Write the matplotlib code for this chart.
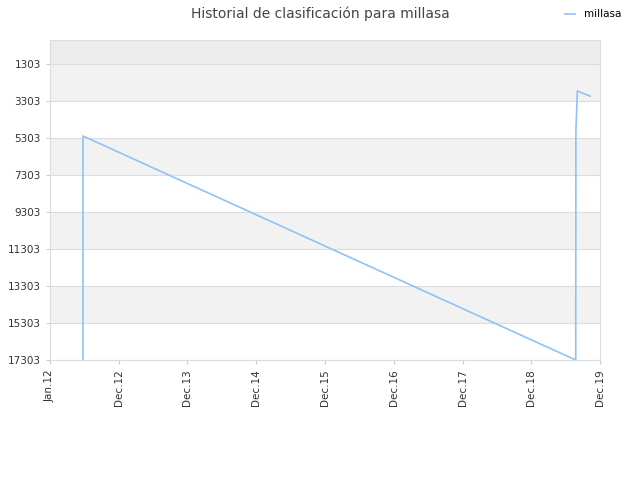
import matplotlib
matplotlib.use('Agg')
import matplotlib.pyplot as plt
import numpy as np
from datetime import datetime

# ================================================================
# Data
# ================================================================

dates = ['2012-06-24', '2012-06-24', '2019-08-24', '2019-08-25',
         '2019-08-25', '2019-09-02', '2019-11-08']
ranks = [17303, 5190, 17303, 4920, 4920, 2760, 3033]

y_ticks = [1303, 3303, 5303, 7303, 9303, 11303, 13303, 15303, 17303]
x_tick_dates = ['2012-01-01', '2012-12-31', '2013-12-31', '2014-12-31',
                '2015-12-31', '2016-12-31', '2017-12-31', '2018-12-31', '2019-12-31']
x_tick_labels = ['Jan.12', 'Dec.12', 'Dec.13', 'Dec.14', 'Dec.15',
                 'Dec.16', 'Dec.17', 'Dec.18', 'Dec.19']

# ================================================================
# Plot
# ================================================================

x = [datetime.strptime(d, '%Y-%m-%d') for d in dates]
xt = [datetime.strptime(d, '%Y-%m-%d') for d in x_tick_dates]

fig = plt.figure(figsize=(6.4, 4.8), dpi=100)
ax = fig.add_axes([50 / 640, 120 / 480, 550 / 640, 320 / 480])

# alternating bands
ax.axhspan(0, y_ticks[0], color='#ececec', zorder=0, lw=0)
for i in range(len(y_ticks) - 1):
    if i % 2 == 0:
        ax.axhspan(y_ticks[i], y_ticks[i + 1], color='#f2f2f2', zorder=0, lw=0)

for yv in y_ticks:
    ax.axhline(yv, color='#dddddd', lw=0.8, zorder=1)

ax.plot(x, ranks, color='#90c2f3', lw=1.2, label='millasa', zorder=3)

ax.set_xlim(xt[0], xt[-1])
ax.set_ylim(17303, 0)
ax.set_yticks(y_ticks)
ax.set_yticklabels([str(v) for v in y_ticks])
ax.set_xticks(xt)
ax.set_xticklabels(x_tick_labels, rotation=90)

ax.tick_params(axis='both', labelsize=7.5, colors='#333333', length=3)
ax.tick_params(axis='both', color='#cccccc')
for s in ax.spines.values():
    s.set_color('#dddddd')

fig.text(0.5, 0.972, 'Historial de clasificación para millasa',
         ha='center', va='center', fontsize=10, color='#444444')

fig.legend(loc='upper right', bbox_to_anchor=(0.985, 1.0), frameon=False,
           fontsize=7.5, handlelength=1.0)

plt.savefig('out.png', dpi=100)
plt.close()
